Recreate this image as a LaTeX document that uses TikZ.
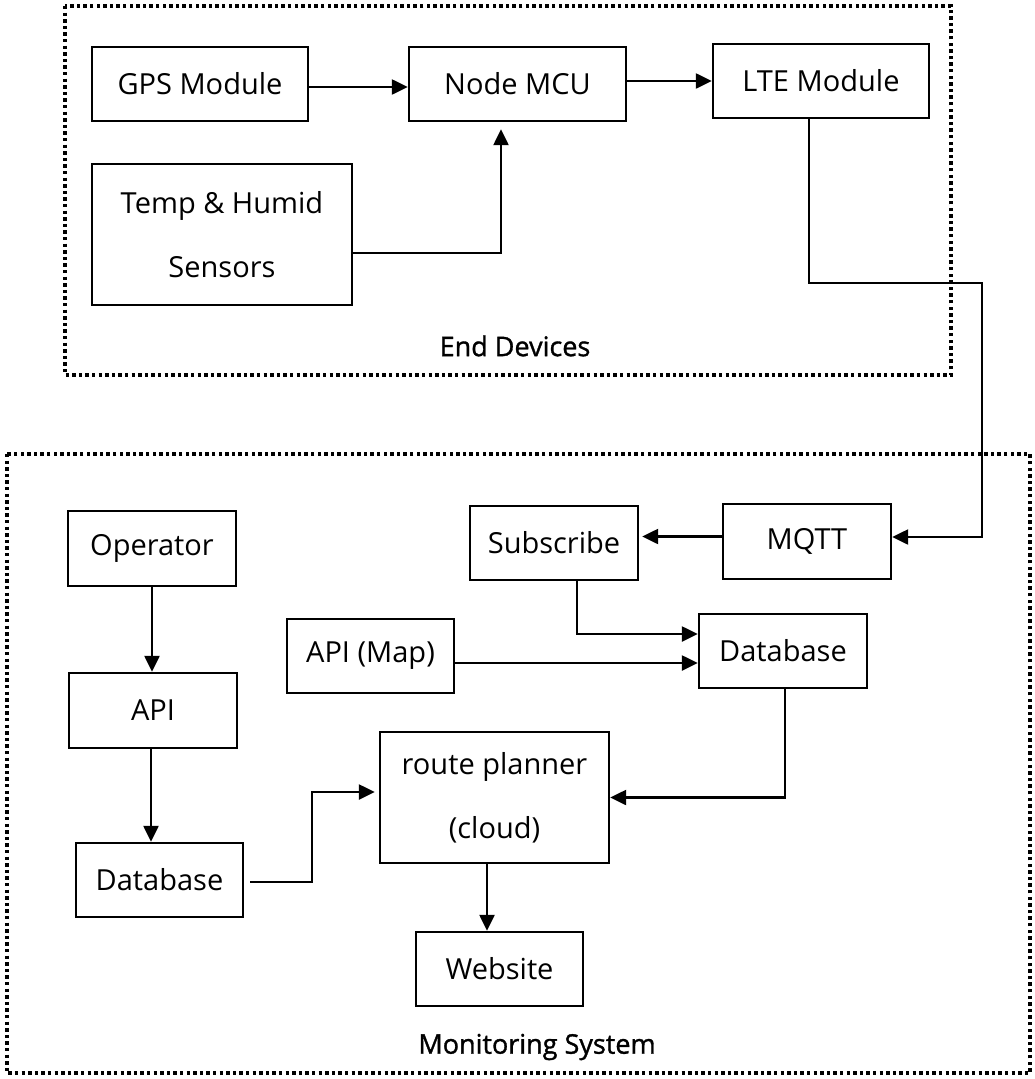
\documentclass[tikz,border=0pt]{standalone}
\usepackage{fontspec}
\setmainfont{Open Sans}
\newfontfamily\grouplabelfont{Open Sans}[FakeBold=1.2]
\usetikzlibrary{arrows.meta,calc}
\tikzset{
  blk/.style={draw,line width=2.4pt,rectangle,inner sep=0pt,align=center,font=\fontsize{29}{64}\selectfont},
  conn/.style={line width=2.4pt,-{Triangle[length=16pt,width=15pt]}},
  grp/.style={line width=3.6pt,dash pattern=on 3.4pt off 3.2pt},
  grplabel/.style={font=\grouplabelfont\fontsize{27}{30}\selectfont}
}
\begin{document}
\begin{tikzpicture}[x=1pt,y=-1pt]
\useasboundingbox (0,0) rectangle (1034,1079);
% group frames
\draw[grp] (65,6) rectangle (951,375);
\draw[grp] (7,454) rectangle (1030,1073);
\node[grplabel] (lbltop) at (515,346) {End Devices};
\node[grplabel] (lblbot) at (537,1047) {Monitoring System};
% end devices
\node[blk,minimum width=216pt,minimum height=74pt] (gps) at (200,84) {GPS Module};
\node[blk,minimum width=217pt,minimum height=74pt] (mcu) at (517.5,84) {Node MCU};
\node[blk,minimum width=216pt,minimum height=74pt] (lte) at (821,81) {LTE Module};
\node[blk,minimum width=260pt,minimum height=141pt] (temp) at (222,234.5) {Temp \& Humid\\Sensors};
% monitoring system
\node[blk,minimum width=168pt,minimum height=75pt] (mqtt) at (807,541.5) {MQTT};
\node[blk,minimum width=168pt,minimum height=74pt] (sub) at (554,543) {Subscribe};
\node[blk,minimum width=168pt,minimum height=74pt] (dbr) at (783,651) {Database};
\node[blk,minimum width=167pt,minimum height=74pt] (apimap) at (370.5,656) {API (Map)};
\node[blk,minimum width=168pt,minimum height=75pt] (op) at (152,548.5) {Operator};
\node[blk,minimum width=168pt,minimum height=75pt] (api) at (153,710.5) {API};
\node[blk,minimum width=167pt,minimum height=74pt] (dbl) at (159.5,880) {Database};
\node[blk,minimum width=229pt,minimum height=131pt] (route) at (494.5,797.5) {route planner\\(cloud)};
\node[blk,minimum width=167pt,minimum height=74pt] (web) at (499.5,969) {Website};
% helper coordinates
\coordinate (ltebend) at (982,283);
\coordinate (dbljog) at (312,792);
% connectors
\draw[conn] ($(gps.east)+(0,3)$) -- ($(mcu.west)+(0,3)$);
\draw[conn] ($(temp.east)+(0,18.5)$) -| ($(mcu.south)+(-16.5,7)$);
\draw[conn] (mcu.east |- lte.west) -- (lte.west);
\draw[conn] ($(lte.south)+(-12,0)$) |- (ltebend) |- ($(mqtt.east)+(0,-4.5)$);
\draw[conn] ($(mqtt.west)+(0,-5)$) -- ($(sub.east)+(3,-6.5)$);
\draw[conn] ($(sub.south)+(23,0)$) |- ($(dbr.west)+(0,-17)$);
\draw[conn] ($(apimap.east)+(0,7)$) -- ($(dbr.west)+(0,12)$);
\draw[conn] ($(dbr.south)+(2,0)$) |- (route.east);
\draw[conn] (op.south) -- (op.south |- api.north);
\draw[conn] ($(api.south)+(-2,0)$) -- ($(api.south |- dbl.north)+(-2,0)$);
\draw[conn] ($(dbl.east)+(6,2)$) -| (dbljog) -- ($(dbljog -| route.west)+(-4,0)$);
\draw[conn] ($(route.south)+(-7.5,0)$) -- ($(web.north)+(-12.5,0)$);
\end{tikzpicture}
\end{document}
